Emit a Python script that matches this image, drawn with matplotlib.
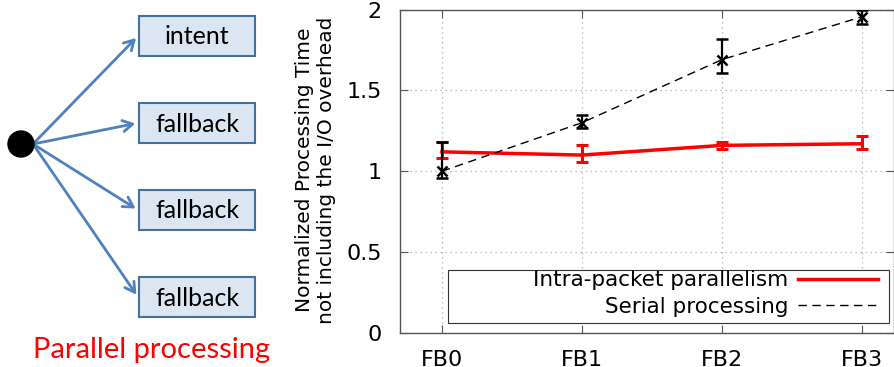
import numpy as np
import matplotlib
matplotlib.use('Agg')
import matplotlib.pyplot as plt
from matplotlib.patches import Rectangle, Circle, FancyArrowPatch

plt.rcParams['font.family'] = ['DejaVu Sans']

# chart data
categories = ['FB0', 'FB1', 'FB2', 'FB3']
parallel = [1.12, 1.10, 1.16, 1.17]
parallel_lo = [0.04, 0.045, 0.02, 0.03]
parallel_hi = [0.06, 0.06, 0.02, 0.05]
serial = [1.00, 1.30, 1.69, 1.955]
serial_lo = [0.04, 0.035, 0.08, 0.045]
serial_hi = [0.18, 0.05, 0.125, 0.045]

# diagram text
box_labels = ['intent', 'fallback', 'fallback', 'fallback']
diagram_title = 'Parallel processing'

W, H = 895, 367
fig = plt.figure(figsize=(W / 100, H / 100), dpi=100)

# ---- left diagram, drawn in pixel coordinates
dax = fig.add_axes([0, 0, 1, 1])
dax.set_xlim(0, W)
dax.set_ylim(H, 0)
dax.axis('off')

dot_x, dot_y = 21, 144
dax.add_patch(Circle((dot_x, dot_y), 13, color='black', zorder=3))
box_x, box_w, box_h = 139, 116, 40
box_tops = [16, 103, 190, 277]
for label, top in zip(box_labels, box_tops):
    dax.add_patch(Rectangle((box_x, top), box_w, box_h, facecolor='#dce6f2',
                            edgecolor='#41719c', linewidth=1.5))
    dax.text(box_x + box_w / 2, top + box_h / 2 + 1, label, ha='center', va='center',
             fontsize=18, family='Lato')
    arr = FancyArrowPatch((dot_x + 12, dot_y), (box_x - 1, top + box_h / 2),
                          arrowstyle='->,head_length=7,head_width=4',
                          color='#4f81bd', linewidth=2, mutation_scale=1)
    dax.add_patch(arr)
dax.text(152, 350, diagram_title, ha='center', va='center', fontsize=21,
         color='#ff0000', family='Lato')

# ---- chart
ax = fig.add_axes([400 / W, (H - 333) / H, 494 / W, 323.5 / H])
x = np.arange(len(categories))

ax.plot(x, parallel, color='#ff0000', linewidth=2.5, label='Intra-packet parallelism', zorder=3)
ax.errorbar(x, parallel, yerr=[parallel_lo, parallel_hi], fmt='none', ecolor='#ff0000',
            elinewidth=2.2, capsize=4.5, capthick=2.2, zorder=3)
ax.plot(x, serial, color='black', linewidth=1, dashes=(6, 4), label='Serial processing', zorder=4)
ax.errorbar(x, serial, yerr=[serial_lo, serial_hi], fmt='x', color='black', markersize=7,
            markeredgewidth=1.8, elinewidth=1.6, capsize=4.5, capthick=1.6, zorder=4)

ax.set_xlim(-0.3, 3.23)
ax.set_ylim(0, 2)
ax.set_xticks(x)
ax.set_xticklabels(categories)
ax.set_yticks([0, 0.5, 1, 1.5, 2])
ax.set_yticklabels(['0', '0.5', '1', '1.5', '2'])
ax.tick_params(direction='in', length=6, width=0.8, colors='#555555', labelcolor='black',
               labelsize=16, top=True, right=True)
ax.tick_params(axis='y', pad=13)
ax.tick_params(axis='x', pad=12)
ax.grid(True, linestyle=(0, (1, 3)), color='#aaaaaa', linewidth=0.9)
for s in ax.spines.values():
    s.set_color('#555555')
    s.set_linewidth(1)

fig.text(316 / W, (H - 170) / H, 'Normalized Processing Time\nnot including the I/O overhead',
         rotation=90, ha='center', va='center', fontsize=14.5, linespacing=1.2)

# gnuplot-style key: wide box, labels right-aligned before the samples
ax.add_patch(Rectangle((0.097, 0.031), 0.893, 0.164, transform=ax.transAxes,
                       facecolor='white', edgecolor='#333333', linewidth=0.8, zorder=5))
leg = ax.legend(loc='lower right', bbox_to_anchor=(0.98, 0.031), markerfirst=False,
                fontsize=15.5, handlelength=3.7, handletextpad=0.45, borderpad=0.3,
                labelspacing=0.3, frameon=False, borderaxespad=0)
leg.set_zorder(6)

fig.savefig('out.png', dpi=100)
